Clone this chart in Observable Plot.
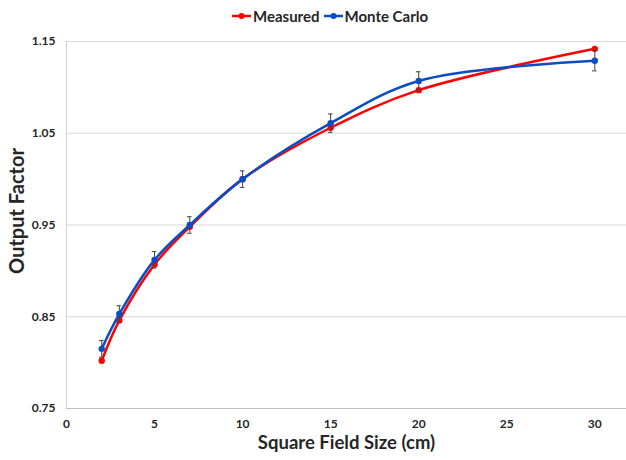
<!DOCTYPE html>
<html>
<head>
<meta charset="utf-8">
<script src="https://cdn.jsdelivr.net/npm/d3@7"></script>
<script src="https://cdn.jsdelivr.net/npm/@observablehq/plot@0.6"></script>
<style>
  body { margin: 0; background: #fff; font-family: Lato, "Open Sans", sans-serif; }
  #legend { position: relative; height: 30px; font-weight: 700; font-size: 15px; color: #262626; }
  #legend .inner { position: absolute; left: 232px; top: 7px; display: flex; align-items: center; gap: 4px; }
  .item { display: flex; align-items: center; gap: 2px; }
</style>
</head>
<body>
<div id="legend"><div class="inner"></div></div>
<div id="chart"></div>
<script>
const fieldSizes = [2, 3, 5, 7, 10, 15, 20, 30];
const measured = [0.802, 0.846, 0.907, 0.948, 1.000, 1.056, 1.097, 1.142];
const monteCarlo = [0.815, 0.853, 0.912, 0.950, 1.000, 1.061, 1.107, 1.129];
const mcError = [0.009, 0.009, 0.009, 0.009, 0.009, 0.010, 0.010, 0.011];
const seriesNames = ["Measured", "Monte Carlo"];
const seriesColors = ["#ff0000", "#0a4cc2"];
const yTicks = [0.75, 0.85, 0.95, 1.05, 1.15];
const xTicks = [0, 5, 10, 15, 20, 25, 30];

const meas = fieldSizes.map((x, i) => ({x, y: measured[i]}));
const mc = fieldSizes.map((x, i) => ({x, y: monteCarlo[i], lo: monteCarlo[i] - mcError[i], hi: monteCarlo[i] + mcError[i]}));

// legend
const legend = document.querySelector("#legend .inner");
seriesNames.forEach((name, i) => {
  const it = document.createElement("span");
  it.className = "item";
  it.innerHTML = `<svg width="19" height="10"><line x1="0" x2="19" y1="5" y2="5" stroke="${seriesColors[i]}" stroke-width="2.5"/><circle cx="9.5" cy="5" r="3" fill="${seriesColors[i]}"/></svg><span>${name}</span>`;
  legend.appendChild(it);
});

const capHalf = 0.13;
const chart = Plot.plot({
  width: 626,
  height: 430,
  marginLeft: 66,
  marginRight: 0,
  marginTop: 11,
  marginBottom: 52,
  style: { fontFamily: "Lato, 'Open Sans', sans-serif", fontWeight: 700, fontSize: "12px", color: "#262626" },
  x: { domain: [0, 31.8], ticks: xTicks },
  y: { domain: [0.75, 1.15], ticks: yTicks },
  marks: [
    Plot.ruleY(yTicks.slice(1), { stroke: "#d9d9d9", strokeWidth: 1 }),
    Plot.ruleY([0.75], { stroke: "#bfbfbf", strokeWidth: 1 }),
    Plot.ruleX([0], { stroke: "#d0d0d0", strokeWidth: 1 }),
    Plot.axisX({ ticks: xTicks, tickSize: 0, tickPadding: 11, label: null, fontSize: 12 }),
    Plot.axisY({ ticks: yTicks, tickSize: 0, tickPadding: 11, tickFormat: d3.format(".2f"), label: null, fontSize: 12 }),
    Plot.line(meas, { x: "x", y: "y", stroke: seriesColors[0], strokeWidth: 2.5, curve: "catmull-rom" }),
    Plot.dot(meas, { x: "x", y: "y", fill: seriesColors[0], r: 3.2 }),
    Plot.ruleX(mc, { x: "x", y1: "lo", y2: "hi", stroke: "#404040", strokeWidth: 1 }),
    Plot.ruleY(mc, { y: "lo", x1: d => d.x - capHalf, x2: d => d.x + capHalf, stroke: "#404040", strokeWidth: 1 }),
    Plot.ruleY(mc, { y: "hi", x1: d => d.x - capHalf, x2: d => d.x + capHalf, stroke: "#404040", strokeWidth: 1 }),
    Plot.line(mc, { x: "x", y: "y", stroke: seriesColors[1], strokeWidth: 2.5, curve: "catmull-rom" }),
    Plot.dot(mc, { x: "x", y: "y", fill: seriesColors[1], r: 3.2 }),
    Plot.text(["Output Factor"], { frameAnchor: "left", textAnchor: "middle", lineAnchor: "middle", dx: -49, dy: -14, rotate: -90, fontSize: 20, fontWeight: 700, fill: "#262626" }),
    Plot.text(["Square Field Size (cm)"], { frameAnchor: "bottom", textAnchor: "middle", lineAnchor: "middle", dy: 35, fontSize: 18.5, fontWeight: 700, fill: "#262626" })
  ]
});
document.getElementById("chart").appendChild(chart);
</script>
</body>
</html>
